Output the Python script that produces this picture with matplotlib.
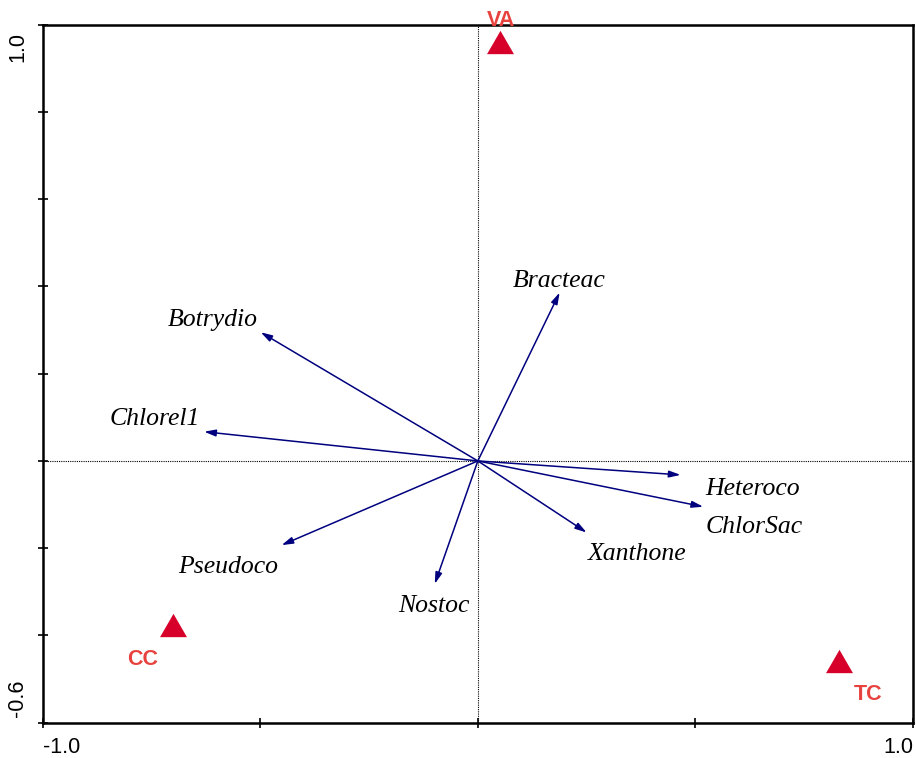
import matplotlib
matplotlib.use("Agg")
import matplotlib.pyplot as plt
from matplotlib.path import Path

# Species scores (arrow tips)
species = ["Bracteac", "Botrydio", "Chlorel1", "Pseudoco",
           "Nostoc", "Xanthone", "Heteroco", "ChlorSac"]
species_x = [0.188, -0.499, -0.629, -0.451, -0.099, 0.250, 0.466, 0.518]
species_y = [0.386, 0.295, 0.067, -0.193, -0.282, -0.164, -0.032, -0.105]

# Sample scores
samples = ["VA", "CC", "TC"]
samples_x = [0.051, -0.700, 0.830]
samples_y = [0.960, -0.377, -0.459]

# Axis ticks
x_ticks = [-1.0, -0.5, 0.0, 0.5, 1.0]
y_ticks = [-0.6, -0.4, -0.2, 0.0, 0.2, 0.4, 0.6, 0.8, 1.0]

# Label placement relative to the arrow tips / markers (points)
species_offsets = {
    "Bracteac": (-0.4, 4.1), "Botrydio": (-34.2, 4.5), "Chlorel1": (-35.5, 4.8),
    "Pseudoco": (-38.7, -20.2), "Nostoc": (-0.7, -20.2), "Xanthone": (36.2, -19.7),
    "Heteroco": (52.0, -14.4), "ChlorSac": (36.5, -18.7),
}
sample_offsets = {"VA": (0.7, 11.7), "CC": (-22.1, -28.4), "TC": (21.2, -28.1)}

ARROW_COLOR = "#00007f"
MARK_COLOR = "#d7002a"
MARK_TEXT = "#e8423e"

fig = plt.figure(figsize=(9.16, 7.58), dpi=100)
ax = fig.add_axes([0.0466, 0.0466, 0.9501, 0.9208])
ax.set_xlim(-1.0, 1.0)
ax.set_ylim(-0.6, 1.0)

for s in ax.spines.values():
    s.set_linewidth(1.8)
    s.set_color("black")

ax.set_xticks(x_ticks)
ax.set_yticks(y_ticks)
ax.tick_params(direction="inout", length=7, width=1.2, labelbottom=False, labelleft=False)
ax.tick_params(axis="x", top=False)
ax.tick_params(axis="y", right=False)

# End-of-axis labels, kept inside the axis span
tick_font = dict(family="Liberation Sans", fontsize=15.5, color="black")
ax.annotate("-1.0", xy=(-1.0, -0.6), xycoords="data", xytext=(0, -10.5),
            textcoords="offset points", ha="left", va="top", annotation_clip=False, **tick_font)
ax.annotate("1.0", xy=(1.0, -0.6), xycoords="data", xytext=(0, -10.5),
            textcoords="offset points", ha="right", va="top", annotation_clip=False, **tick_font)
ax.annotate("-0.6", xy=(-1.0, -0.6), xycoords="data", xytext=(-10.5, 4),
            textcoords="offset points", ha="right", va="bottom", rotation=90,
            annotation_clip=False, **tick_font)
ax.annotate("1.0", xy=(-1.0, 1.0), xycoords="data", xytext=(-10.5, -5),
            textcoords="offset points", ha="right", va="top", rotation=90,
            annotation_clip=False, **tick_font)

# Dotted zero lines
ax.axhline(0, color="black", lw=0.8, ls=(0, (1, 1)), zorder=1)
ax.axvline(0, color="black", lw=0.8, ls=(0, (1, 1)), zorder=1)

# Species arrows
for name, sx, sy in zip(species, species_x, species_y):
    ax.annotate("", xy=(sx, sy), xytext=(0, 0),
                arrowprops=dict(arrowstyle="-|>,head_length=0.68,head_width=0.2",
                                mutation_scale=10, color=ARROW_COLOR, lw=1.1,
                                shrinkA=0, shrinkB=0), zorder=3)
    ax.annotate(name, xy=(sx, sy), xytext=species_offsets[name], textcoords="offset points",
                ha="center", va="baseline", fontsize=18.5, style="italic",
                family="Liberation Serif", color="black", zorder=4)

# Sample markers
tri = Path([(-1, -0.866), (1, -0.866), (0, 0.866), (-1, -0.866)],
           [Path.MOVETO, Path.LINETO, Path.LINETO, Path.CLOSEPOLY])
ax.scatter(samples_x, samples_y, marker=tri, s=19.4 ** 2, color=MARK_COLOR,
           linewidths=0, zorder=5, clip_on=False)
for name, px, py in zip(samples, samples_x, samples_y):
    ax.annotate(name, xy=(px, py), xytext=sample_offsets[name], textcoords="offset points",
                ha="center", va="baseline", fontsize=15.5, fontweight="bold",
                family="Liberation Sans", color=MARK_TEXT, annotation_clip=False, zorder=6)

fig.savefig("out.png", dpi=100)
